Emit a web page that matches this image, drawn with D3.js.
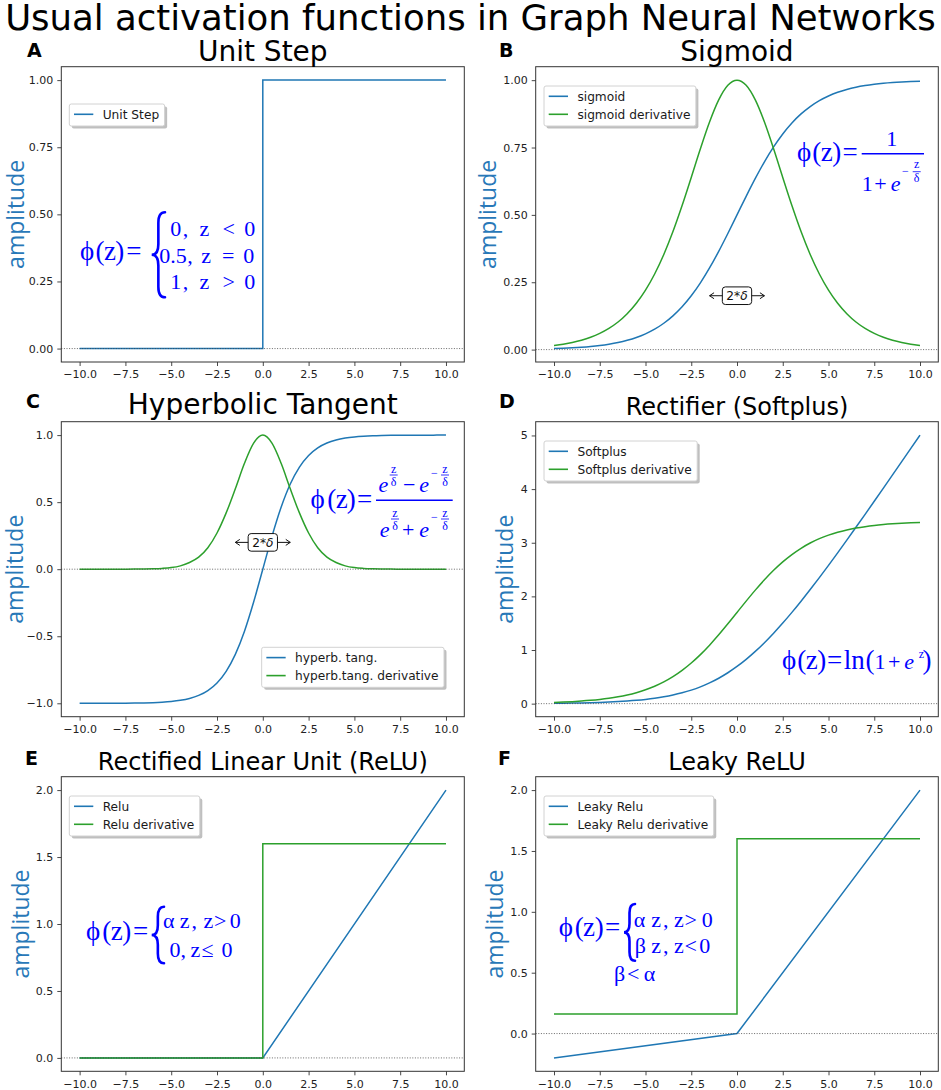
<!DOCTYPE html>
<html>
<head>
<meta charset="utf-8">
<script src="https://cdn.jsdelivr.net/npm/d3@7"></script>
<style>
  body { margin: 0; background: #fff; }
  text { font-family: "DejaVu Sans", sans-serif; }
</style>
</head>
<body>
<script>
// ---- data ----
const Z = [-10, -9.5, -9, -8.5, -8, -7.5, -7, -6.5, -6, -5.5, -5, -4.5, -4, -3.5, -3, -2.5, -2, -1.5, -1, -0.5,
  0, 0.5, 1, 1.5, 2, 2.5, 3, 3.5, 4, 4.5, 5, 5.5, 6, 6.5, 7, 7.5, 8, 8.5, 9, 9.5, 10];

const stepZ = [-10, 0, 0, 10];
const stepY = [0, 0, 1, 1];

const sigmoidY = [0.0038, 0.0051, 0.0067, 0.0088, 0.0116, 0.0153, 0.0201, 0.0263, 0.0345, 0.0450, 0.0586, 0.0759,
  0.0978, 0.1252, 0.1589, 0.1996, 0.2477, 0.3029, 0.3646, 0.4310, 0.5, 0.5690, 0.6354, 0.6971, 0.7523, 0.8004,
  0.8411, 0.8748, 0.9022, 0.9241, 0.9414, 0.9550, 0.9655, 0.9737, 0.9799, 0.9847, 0.9884, 0.9912, 0.9933, 0.9949, 0.9962];
const sigmoidDerivY = [0.0151, 0.0203, 0.0266, 0.0349, 0.0459, 0.0603, 0.0788, 0.1024, 0.1332, 0.1719, 0.2207, 0.2806,
  0.3530, 0.4381, 0.5346, 0.6390, 0.7454, 0.8446, 0.9267, 0.9810, 1.0, 0.9810, 0.9267, 0.8446, 0.7454, 0.6390,
  0.5346, 0.4381, 0.3530, 0.2806, 0.2207, 0.1719, 0.1332, 0.1024, 0.0788, 0.0603, 0.0459, 0.0349, 0.0266, 0.0203, 0.0151];

const tanhY = [-0.9999, -0.9999, -0.9998, -0.9996, -0.9993, -0.9989, -0.9982, -0.9970, -0.9951, -0.9918, -0.9866, -0.9780,
  -0.9640, -0.9414, -0.9051, -0.8483, -0.7616, -0.6351, -0.4621, -0.2449, 0, 0.2449, 0.4621, 0.6351, 0.7616, 0.8483,
  0.9051, 0.9414, 0.9640, 0.9780, 0.9866, 0.9918, 0.9951, 0.9970, 0.9982, 0.9989, 0.9993, 0.9996, 0.9998, 0.9999, 0.9999];
const tanhDerivY = [0, 0, 0, 0, 0, 0.0003, 0.0007, 0.0015, 0.003, 0.006, 0.012, 0.025, 0.05, 0.09, 0.16, 0.27, 0.42,
  0.60, 0.79, 0.94, 1.0, 0.94, 0.79, 0.60, 0.42, 0.27, 0.16, 0.09, 0.05, 0.025, 0.012, 0.006, 0.003, 0.0015, 0.0007,
  0.0003, 0, 0, 0, 0, 0];

const softplusY = [0.0067, 0.0086, 0.0111, 0.0142, 0.0182, 0.0233, 0.0298, 0.0380, 0.0486, 0.0620, 0.0789, 0.1002,
  0.1269, 0.1602, 0.2014, 0.2519, 0.3133, 0.3869, 0.4741, 0.5760, 0.6931, 0.8260, 0.9741, 1.1369, 1.3133, 1.5019,
  1.7014, 1.9102, 2.1269, 2.3502, 2.5789, 2.8120, 3.0486, 3.2880, 3.5298, 3.7733, 4.0182, 4.2642, 4.5111, 4.7586, 5.0067];
const softplusDerivY = [0.0228, 0.0292, 0.0374, 0.0478, 0.0612, 0.0781, 0.0997, 0.1269, 0.1613, 0.2043, 0.2579, 0.3242,
  0.4053, 0.5032, 0.6202, 0.7572, 0.9143, 1.0907, 1.2835, 1.4885, 1.7000, 1.9115, 2.1165, 2.3093, 2.4857, 2.6428,
  2.7798, 2.8968, 2.9947, 3.0758, 3.1421, 3.1957, 3.2387, 3.2731, 3.3003, 3.3219, 3.3388, 3.3522, 3.3626, 3.3708, 3.3772];

const reluZ = [-10, 0, 10];
const reluY = [0, 0, 2];
const reluDerivZ = [-10, 0, 0, 10];
const reluDerivY = [0, 0, 1.6, 1.6];
const leakyY = [-0.2, 0, 2];
const leakyDerivY = [0.16, 0.16, 1.6, 1.6];

const xTicks = [-10, -7.5, -5, -2.5, 0, 2.5, 5, 7.5, 10];
const yTicksUnit = [0, 0.25, 0.5, 0.75, 1];
const yTicksTanh = [-1, -0.5, 0, 0.5, 1];
const yTicksSoftplus = [0, 1, 2, 3, 4, 5];
const yTicksRelu = [0, 0.5, 1, 1.5, 2];

const deltaNote = { z: 0, v: 0.2, from: -1.5, to: 1.5 };

// ---- styles ----
const BLUE = '#1f77b4', GREEN = '#2ca02c', INK = '#0000ff';
const M = 27, R = 22, S = 12;

// formula pieces: [text, centre x, baseline y, size, italic]
const mathA = {
  pieces: [
    ['ϕ', 87.2, 260, M], ['(', 100, 260, M], ['z', 110, 260, M], [')', 119.7, 260, M], ['=', 133.8, 260, M],
    ['0', 175.8, 235.7, R], [',', 185.5, 235.7, R], ['z', 204.5, 235.7, R], ['<', 228.8, 235.7, R], ['0', 249.7, 235.7, R],
    ['0.5', 173, 263.3, R], [',', 190, 263.3, R], ['z', 206.2, 263.3, R], ['=', 228.3, 263.3, R], ['0', 248.7, 263.3, R],
    ['1', 175.8, 289.3, R], [',', 185.5, 289.3, R], ['z', 204.5, 289.3, R], ['>', 228.8, 289.3, R], ['0', 249.7, 289.3, R]
  ],
  bars: [], braces: [[151.7, 165, 212.3, 297.3]]
};
const mathB = {
  pieces: [
    ['ϕ', 804.2, 161, M], ['(', 816.7, 161, M], ['z', 826.7, 161, M], [')', 836.7, 161, M], ['=', 850, 161, M],
    ['1', 891.7, 146, R],
    ['1', 867.2, 190.7, R], ['+', 880.5, 190.7, R], ['e', 895.7, 190.7, R, true],
    ['−', 905.5, 175, S], ['z', 916.7, 168, S], ['δ', 916.7, 182.3, S]
  ],
  bars: [[861.7, 924, 153.7, 1.4], [912.7, 920.7, 171.7, 0.8]], braces: []
};
const mathC = {
  pieces: [
    ['ϕ', 317.5, 508.4, M], ['(', 331.7, 508.4, M], ['z', 341.7, 508.4, M], [')', 351.2, 508.4, M], ['=', 364.7, 508.4, M],
    ['e', 383.3, 492.3, R, true], ['z', 393.7, 472.5, S], ['δ', 393.7, 486, S], ['−', 409.2, 492.3, R],
    ['e', 424.2, 492.3, R, true], ['−', 434.5, 477, S], ['z', 445, 472.5, S], ['δ', 445, 486, S],
    ['e', 384.7, 536.7, R, true], ['z', 395, 516.5, S], ['δ', 395, 530, S], ['+', 408.3, 536.7, R],
    ['e', 424.2, 536.7, R, true], ['−', 434.5, 521, S], ['z', 445, 516.5, S], ['δ', 445, 530, S]
  ],
  bars: [[376, 452.7, 500.3, 1.4], [389.7, 397.7, 475, 0.8], [441, 449, 475, 0.8], [391, 399, 519, 0.8], [441, 449, 519, 0.8]],
  braces: []
};
const mathD = {
  pieces: [
    ['ϕ', 789.2, 668.5, M], ['(', 801.7, 668.5, M], ['z', 811.7, 668.5, M], [')', 821.7, 668.5, M], ['=', 834.7, 668.5, M],
    ['ln', 854.2, 668.5, M], ['(', 870, 668.5, M], ['1', 880, 668.5, R], ['+', 894.2, 668.5, R], ['e', 909.2, 668.5, R, true],
    ['z', 921.5, 658.3, S], [')', 927, 668.5, M]
  ],
  bars: [], braces: []
};
const mathE = {
  pieces: [
    ['ϕ', 93.2, 940, M], ['(', 106.7, 940, M], ['z', 116.7, 940, M], [')', 126.7, 940, M], ['=', 140.5, 940, M],
    ['α', 168.7, 928.3, R], ['z', 184.7, 928.3, R], [',', 194.2, 928.3, R], ['z', 208.3, 928.3, R], ['>', 220.3, 928.3, R], ['0', 235.3, 928.3, R],
    ['0', 175, 957.3, R], [',', 183.3, 957.3, R], ['z', 195.3, 957.3, R], ['≤', 207.5, 957.3, R], ['0', 227, 957.3, R]
  ],
  bars: [], braces: [[151.7, 164, 906.7, 963.3]]
};
const mathF = {
  pieces: [
    ['ϕ', 565.8, 936, M], ['(', 579.3, 936, M], ['z', 589, 936, M], [')', 599.3, 936, M], ['=', 612.5, 936, M],
    ['α', 639.5, 926.7, R], ['z', 656.2, 926.7, R], [',', 665.8, 926.7, R], ['z', 679, 926.7, R], ['>', 690.8, 926.7, R], ['0', 707.2, 926.7, R],
    ['β', 640.3, 953.3, R], ['z', 656.2, 953.3, R], [',', 665.8, 953.3, R], ['z', 679, 953.3, R], ['<', 690.8, 953.3, R], ['0', 704.7, 953.3, R],
    ['β', 619.5, 980.7, R], ['<', 633.3, 980.7, R], ['α', 649.5, 980.7, R]
  ],
  bars: [], braces: [[624, 635, 904, 960.7]]
};

const panels = [
  { letter: 'A', title: 'Unit Step', titleSize: 28, box: [61.3, 66.7, 464.3, 362], yDomain: [-0.05, 1.05],
    yTicks: yTicksUnit, yFormat: '.2f', titleY: 60.5, letterX: 27, letterY: 57.3, ylabelX: 24,
    legend: { x: 69.3, y: 104 }, math: mathA, note: false,
    series: [{ z: stepZ, v: stepY, color: BLUE, name: 'Unit Step', curve: d3.curveLinear }] },
  { letter: 'B', title: 'Sigmoid', titleSize: 28, box: [535.7, 66.7, 938.3, 362], yDomain: [-0.046, 1.05],
    yTicks: yTicksUnit, yFormat: '.2f', titleY: 60.5, letterX: 499, letterY: 57.3, ylabelX: 496,
    legend: { x: 544, y: 86 }, math: mathB, note: true,
    series: [{ z: Z, v: sigmoidY, color: BLUE, name: 'sigmoid', curve: d3.curveMonotoneX },
             { z: Z, v: sigmoidDerivY, color: GREEN, name: 'sigmoid derivative', curve: d3.curveMonotoneX }] },
  { letter: 'C', title: 'Hyperbolic Tangent', titleSize: 28, box: [61.3, 421.7, 464.3, 716.7], yDomain: [-1.1, 1.1],
    yTicks: yTicksTanh, yFormat: '.1f', titleY: 414.3, letterX: 26, letterY: 407.7, ylabelX: 22.5,
    legend: { right: 444, y: 647.3 }, math: mathC, note: true,
    series: [{ z: Z, v: tanhY, color: BLUE, name: 'hyperb. tang.', curve: d3.curveMonotoneX },
             { z: Z, v: tanhDerivY, color: GREEN, name: 'hyperb.tang. derivative', curve: d3.curveMonotoneX }] },
  { letter: 'D', title: 'Rectifier (Softplus)', titleSize: 24, box: [535.7, 421.7, 938.3, 716.7], yDomain: [-0.2433, 5.2567],
    yTicks: yTicksSoftplus, yFormat: 'd', titleY: 415, letterX: 499, letterY: 407.7, ylabelX: 513.3,
    legend: { x: 544, y: 441 }, math: mathD, note: false,
    series: [{ z: Z, v: softplusY, color: BLUE, name: 'Softplus', curve: d3.curveMonotoneX },
             { z: Z, v: softplusDerivY, color: GREEN, name: 'Softplus derivative', curve: d3.curveMonotoneX }] },
  { letter: 'E', title: 'Rectified Linear Unit (ReLU)', titleSize: 24, box: [61.3, 776.7, 464.3, 1071.3], yDomain: [-0.1, 2.1],
    yTicks: yTicksRelu, yFormat: '.1f', titleY: 770, letterX: 25, letterY: 765, ylabelX: 29.3,
    legend: { x: 69.3, y: 796 }, math: mathE, note: false,
    series: [{ z: reluZ, v: reluY, color: BLUE, name: 'Relu', curve: d3.curveLinear },
             { z: reluDerivZ, v: reluDerivY, color: GREEN, name: 'Relu derivative', curve: d3.curveLinear }] },
  { letter: 'F', title: 'Leaky ReLU', titleSize: 24, box: [535.7, 776.7, 938.3, 1071.3], yDomain: [-0.31, 2.11],
    yTicks: yTicksRelu, yFormat: '.1f', titleY: 770, letterX: 498, letterY: 765, ylabelX: 503.3,
    legend: { x: 544, y: 796 }, math: mathF, note: false,
    series: [{ z: reluZ, v: leakyY, color: BLUE, name: 'Leaky Relu', curve: d3.curveLinear },
             { z: reluDerivZ, v: leakyDerivY, color: GREEN, name: 'Leaky Relu derivative', curve: d3.curveLinear }] }
];

const svg = d3.select('body').append('svg')
  .attr('width', 941).attr('height', 1090)
  .style('background', '#fff');

svg.append('text')
  .attr('x', 470.5).attr('y', 29.5)
  .attr('text-anchor', 'middle')
  .style('font-size', '35.5px')
  .text('Usual activation functions in Graph Neural Networks');

function bracePath(x0, x1, ya, yb) {
  const w = x1 - x0, xm = x0 + w * 0.5, mid = (ya + yb) / 2, r = w * 0.8;
  return `M${x1},${ya} Q${xm},${ya} ${xm},${ya + r} L${xm},${mid - r} Q${xm},${mid} ${x0},${mid}`
    + ` Q${xm},${mid} ${xm},${mid + r} L${xm},${yb - r} Q${xm},${yb} ${x1},${yb}`;
}

function drawMath(g, m) {
  m.pieces.forEach(([t, cx, by, size, italic]) => {
    g.append('text')
      .attr('x', cx).attr('y', by)
      .attr('text-anchor', 'middle')
      .style('font-family', '"Liberation Serif", "DejaVu Serif", serif')
      .style('font-size', size + 'px')
      .style('font-style', italic ? 'italic' : 'normal')
      .attr('fill', INK)
      .text(t);
  });
  m.bars.forEach(([xa, xb, yy, w]) => {
    g.append('line').attr('x1', xa).attr('x2', xb).attr('y1', yy).attr('y2', yy)
      .attr('stroke', INK).attr('stroke-width', w);
  });
  m.braces.forEach(([x0, x1, ya, yb]) => {
    g.append('path').attr('d', bracePath(x0, x1, ya, yb))
      .attr('fill', 'none').attr('stroke', INK).attr('stroke-width', 2.6)
      .attr('stroke-linecap', 'round');
  });
}

function drawLegend(g, series, pos) {
  const lg = g.append('g');
  const rowH = 18, h = 22 + rowH * (series.length - 1);
  const texts = series.map((s, i) => lg.append('text')
    .attr('x', 33.4).attr('y', 10.3 + i * rowH + 4.4)
    .style('font-size', '12.2px').attr('fill', '#1a1a1a')
    .text(s.name));
  const w = 33.4 + d3.max(texts, t => t.node().getComputedTextLength()) + 5.5;
  series.forEach((s, i) => {
    lg.append('line')
      .attr('x1', 4.7).attr('x2', 24).attr('y1', 10.3 + i * rowH).attr('y2', 10.3 + i * rowH)
      .attr('stroke', s.color).attr('stroke-width', 1.6);
  });
  lg.insert('rect', ':first-child')
    .attr('width', w).attr('height', h).attr('rx', 2)
    .attr('fill', '#fff').attr('stroke', '#d2d2d2').attr('stroke-width', 1);
  lg.insert('rect', ':first-child')
    .attr('x', 2.5).attr('y', 2.5).attr('width', w).attr('height', h).attr('rx', 2)
    .attr('fill', '#8a8a8a').attr('opacity', 0.55);
  const x0 = pos.right !== undefined ? pos.right - w : pos.x;
  lg.attr('transform', `translate(${x0},${pos.y})`);
}

function drawNote(g, x, y) {
  const cx = x(deltaNote.z), cy = y(deltaNote.v);
  const ng = g.append('g');
  const t = ng.append('text')
    .attr('x', cx).attr('y', cy + 4.4)
    .attr('text-anchor', 'middle')
    .style('font-size', '12.2px').attr('fill', '#111');
  t.append('tspan').text('2*');
  t.append('tspan').style('font-style', 'italic').text('δ');
  const tw = t.node().getComputedTextLength();
  const bw = tw + 8, bh = 17.6;
  ng.insert('rect', ':first-child')
    .attr('x', cx - bw / 2).attr('y', cy - bh / 2)
    .attr('width', bw).attr('height', bh).attr('rx', 3)
    .attr('fill', '#fff').attr('stroke', '#111').attr('stroke-width', 1);
  const left = x(deltaNote.from), right = x(deltaNote.to);
  ng.append('line').attr('x1', cx - bw / 2).attr('x2', left).attr('y1', cy).attr('y2', cy)
    .attr('stroke', '#111').attr('stroke-width', 1);
  ng.append('line').attr('x1', cx + bw / 2).attr('x2', right).attr('y1', cy).attr('y2', cy)
    .attr('stroke', '#111').attr('stroke-width', 1);
  ng.append('path').attr('d', `M${left + 4.5},${cy - 3} L${left},${cy} L${left + 4.5},${cy + 3}`)
    .attr('fill', 'none').attr('stroke', '#111').attr('stroke-width', 1);
  ng.append('path').attr('d', `M${right - 4.5},${cy - 3} L${right},${cy} L${right - 4.5},${cy + 3}`)
    .attr('fill', 'none').attr('stroke', '#111').attr('stroke-width', 1);
}

panels.forEach(p => {
  const [x0, y0, x1, y1] = p.box;
  const g = svg.append('g');
  const x = d3.scaleLinear().domain([-11, 11]).range([x0, x1]);
  const y = d3.scaleLinear().domain(p.yDomain).range([y1, y0]);

  g.append('rect')
    .attr('x', x0).attr('y', y0).attr('width', x1 - x0).attr('height', y1 - y0)
    .attr('fill', '#fff');

  // curves
  p.series.forEach(s => {
    const line = d3.line()
      .x((d, i) => x(s.z[i]))
      .y(d => y(d))
      .curve(s.curve);
    g.append('path')
      .attr('d', line(s.v))
      .attr('fill', 'none')
      .attr('stroke', s.color)
      .attr('stroke-width', 1.5);
  });

  // dotted zero line
  g.append('line')
    .attr('x1', x0).attr('x2', x1).attr('y1', y(0)).attr('y2', y(0))
    .attr('stroke', '#444').attr('stroke-width', 0.8)
    .attr('stroke-dasharray', '1,1.6');

  // axes
  const ax = g.append('g')
    .attr('transform', `translate(0,${y1})`)
    .call(d3.axisBottom(x).tickValues(xTicks).tickFormat(d3.format('.1f')).tickSize(4).tickPadding(4.5).tickSizeOuter(0));
  const ay = g.append('g')
    .attr('transform', `translate(${x0},0)`)
    .call(d3.axisLeft(y).tickValues(p.yTicks).tickFormat(d3.format(p.yFormat)).tickSize(4).tickPadding(4).tickSizeOuter(0));
  [ax, ay].forEach(a => {
    a.select('.domain').remove();
    a.selectAll('line').attr('stroke', '#333').attr('stroke-width', 0.9);
    a.selectAll('text').style('font-family', '"DejaVu Sans"').style('font-size', '11px').attr('fill', '#222');
  });

  g.append('rect')
    .attr('x', x0).attr('y', y0).attr('width', x1 - x0).attr('height', y1 - y0)
    .attr('fill', 'none').attr('stroke', '#333').attr('stroke-width', 1);

  drawLegend(g, p.series, p.legend);
  if (p.note) drawNote(g, x, y);
  drawMath(g, p.math);

  g.append('text')
    .attr('x', (x0 + x1) / 2).attr('y', p.titleY)
    .attr('text-anchor', 'middle')
    .style('font-size', p.titleSize + 'px')
    .text(p.title);

  g.append('text')
    .attr('x', p.letterX).attr('y', p.letterY)
    .style('font-size', '19px').style('font-weight', 'bold')
    .text(p.letter);

  g.append('text')
    .attr('transform', `translate(${p.ylabelX},${(y0 + y1) / 2}) rotate(-90)`)
    .attr('text-anchor', 'middle')
    .style('font-family', '"Open Sans", sans-serif')
    .style('font-size', '23px')
    .attr('fill', '#2878b8')
    .text('amplitude');
});
</script>
</body>
</html>
